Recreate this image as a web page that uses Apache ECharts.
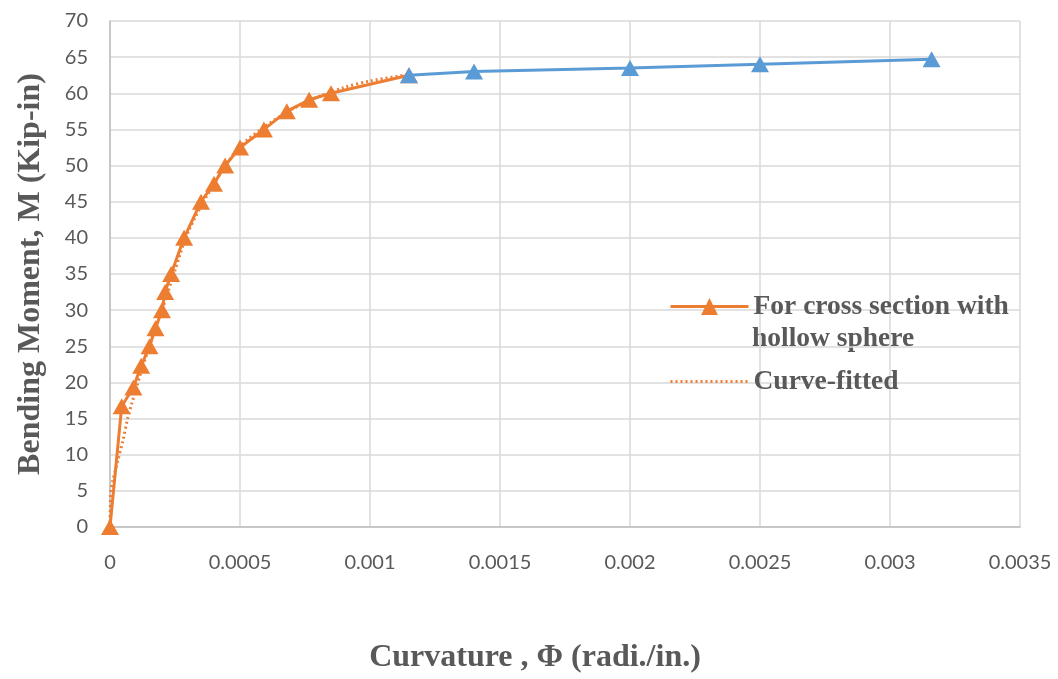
<!DOCTYPE html>
<html>
<head>
<meta charset="utf-8">
<script src="https://cdn.jsdelivr.net/npm/echarts@6/dist/echarts.min.js"></script>
<style>
html,body{margin:0;padding:0;background:#fff;}
#chart{width:1058px;height:679px;}
</style>
</head>
<body>
<div id="chart"></div>
<script>
// Orange series: For cross section with hollow sphere
const hollowCurvature = [0, 0.000045, 0.00009, 0.00012, 0.000152, 0.000175, 0.0002, 0.000212, 0.000235, 0.000285, 0.00035, 0.0004, 0.000443, 0.0005, 0.000592, 0.00068, 0.000766, 0.00085, 0.00115];
const hollowMoment    = [0, 16.7, 19.3, 22.3, 25, 27.5, 30, 32.5, 35, 40, 45, 47.5, 50, 52.5, 55, 57.5, 59.1, 60, 62.5];

// Blue series: continuation
const blueCurvature = [0.00115, 0.0014, 0.002, 0.0025, 0.00316];
const blueMoment    = [62.5, 63.0, 63.5, 64.0, 64.7];

// Curve-fitted (dotted)
const fitCurvature = [0, 0.000002, 0.000004, 0.00001, 0.00003, 0.00005, 0.000067, 0.000083, 0.00012, 0.00016, 0.0002, 0.00025, 0.0003, 0.0004, 0.0005, 0.0006, 0.0007, 0.0008, 0.0009, 0.001, 0.00115];
const fitMoment    = [0, 4.2, 5.2, 6.3, 9.2, 12, 14.9, 17, 21.5, 26, 30, 35.5, 40.8, 47.5, 52.6, 55.5, 57.8, 59.5, 60.8, 61.7, 62.6];

const xTicks = {min: 0, max: 0.0035, interval: 0.0005};
const yTicks = {min: 0, max: 70, interval: 5};

const seriesNames = ['For cross section with hollow sphere', 'Curve-fitted'];
const legendLines = ['For cross section with', 'hollow sphere'];

function pairs(xs, ys){ return xs.map((x,i)=>[x, ys[i]]); }

const chart = echarts.init(document.getElementById('chart'));
const tickFont = 'Lato, "Open Sans", sans-serif';
const serif = '"Liberation Serif", "Times New Roman", serif';
const legendText = {fontFamily: serif, fontWeight: 'bold', fontSize: 27.5, color: '#595959'};

chart.setOption({
  animation: false,
  grid: {left: 110, right: 38, top: 21, bottom: 146, containLabel: false},
  xAxis: {
    type: 'value', min: xTicks.min, max: xTicks.max, interval: xTicks.interval,
    name: 'Curvature , Φ (radi./in.)', nameLocation: 'middle', nameGap: 115,
    nameTextStyle: {fontFamily: serif, fontWeight: 'bold', fontSize: 32, color: '#595959', padding: [0, 60, 0, 0]},
    axisLine: {show: true, lineStyle: {color: '#bfbfbf', width: 1.5}},
    axisTick: {show: false},
    axisLabel: {fontFamily: tickFont, fontSize: 20, color: '#595959', margin: 26,
      formatter: v => String(+v.toFixed(4))},
    splitLine: {show: true, lineStyle: {color: '#d9d9d9', width: 1.5}}
  },
  yAxis: {
    type: 'value', min: yTicks.min, max: yTicks.max, interval: yTicks.interval,
    name: 'Bending Moment, M (Kip-in)', nameLocation: 'middle', nameGap: 63,
    nameTextStyle: {fontFamily: serif, fontWeight: 'bold', fontSize: 32, color: '#595959'},
    axisLine: {show: true, lineStyle: {color: '#bfbfbf', width: 1.5}},
    axisTick: {show: false},
    axisLabel: {fontFamily: tickFont, fontSize: 20, color: '#595959', margin: 22},
    splitLine: {show: true, lineStyle: {color: '#d9d9d9', width: 1.5}}
  },
  legend: {
    orient: 'vertical', left: 664, top: 285,
    itemWidth: 78, itemHeight: 21, itemGap: 42,
    lineStyle: {width: 3},
    data: [{name: seriesNames[0]}, {name: seriesNames[1], itemStyle: {opacity: 0}}],
    formatter: n => n === seriesNames[0] ? legendLines[0] : n,
    textStyle: Object.assign({lineHeight: 33}, legendText)
  },
  graphic: [{
    type: 'text', left: 752, top: 325,
    style: {text: legendLines[1], fill: '#595959',
      font: 'bold 27.5px "Liberation Serif", serif'}
  }],
  series: [
    {
      name: seriesNames[0], type: 'line', data: pairs(hollowCurvature, hollowMoment),
      symbol: 'triangle', symbolSize: [18, 16], z: 2,
      lineStyle: {color: '#ED7D31', width: 3},
      itemStyle: {color: '#ED7D31'}
    },
    {
      name: seriesNames[1], type: 'line', data: pairs(fitCurvature, fitMoment),
      symbol: 'none', smooth: 0.3, z: 3,
      lineStyle: {color: '#ED7D31', width: 3, type: [2, 3]},
      itemStyle: {color: '#ED7D31'}
    },
    {
      name: 'blue', type: 'line', data: pairs(blueCurvature, blueMoment),
      symbol: 'triangle', symbolSize: [18, 16], z: 4,
      lineStyle: {color: '#5B9BD5', width: 3},
      itemStyle: {color: '#5B9BD5'}
    }
  ]
});
</script>
</body>
</html>
